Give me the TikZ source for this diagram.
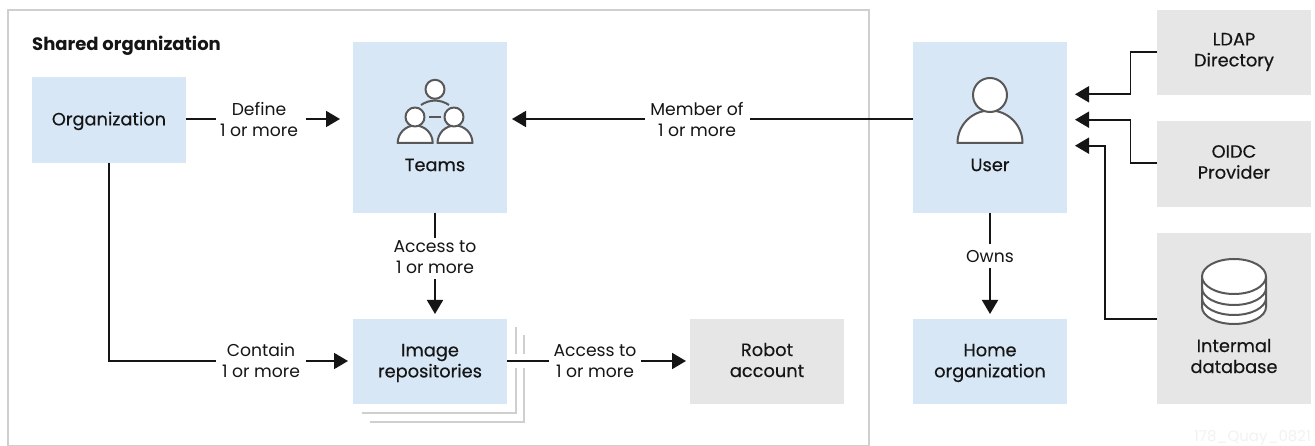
\documentclass[tikz,border=0pt]{standalone}
\usepackage{fontspec}
\setmainfont{Poppins}
\usetikzlibrary{arrows.meta}
\definecolor{bluebox}{HTML}{D8E7F6}
\definecolor{greybox}{HTML}{E6E6E6}
\definecolor{framec}{HTML}{CFCFCF}
\definecolor{inkc}{HTML}{151515}
\definecolor{iconc}{HTML}{585858}
\newfontfamily\medfont[FakeBold=0.4]{Poppins}
\tikzset{
  x=1pt,y=-1pt,
  boxb/.style={fill=bluebox,draw=none,inner sep=0pt},
  boxg/.style={fill=greybox,draw=none,inner sep=0pt},
  lbl/.style={font=\fontsize{17.2}{21}\selectfont,text=inkc,align=center,inner sep=0pt},
  lblm/.style={lbl,font=\fontsize{17.8}{21}\selectfont\medfont},
  line/.style={draw=inkc,line width=1.8pt},
  arr/.style={line,-{Triangle[length=14pt,width=16pt]}},
  ico/.style={draw=iconc,line width=2pt,fill=white,line join=round},
  stack/.style={draw=framec,line width=2pt},
}
\begin{document}
\begin{tikzpicture}
\useasboundingbox (0,0) rectangle (1315,446);
\fill[white] (0,0) rectangle (1315,446);
\draw[draw=framec,line width=2pt] (8,446) -- (8,10) -- (869,10) -- (869,446) -- cycle;
\node[lbl,anchor=west,font=\fontsize{18}{21}\selectfont\bfseries] (title) at (32,46) {Shared organization};

\draw[stack] (362,412.5) -- (515.5,412.5) -- (515.5,327);
\draw[stack] (370,421.5) -- (524,421.5) -- (524,335);

\path[boxb] (32,77) rectangle (186,163);
\node[lblm] (org) at (109,121) {Organization};
\coordinate (orgS) at (109,163); \coordinate (orgE) at (186,119);
\path[boxb] (353,42) rectangle (507,213);
\node[lblm] (teams) at (435,165) {Teams};
\coordinate (teamsW) at (340,119); \coordinate (teamsE) at (512,119); \coordinate (teamsS) at (435,213);
\path[boxb] (353,319) rectangle (507,404);
\node[lblm] (repo) at (430,363) {Image\\repositories};
\coordinate (repoN) at (435,314); \coordinate (repoW) at (348,361); \coordinate (repoE) at (507,361);
\path[boxg] (690,319) rectangle (844,404);
\node[lblm] (robot) at (767,360) {Robot\\account};
\coordinate (robotW) at (686,361);
\path[boxb] (913,42) rectangle (1067,213);
\node[lblm] (user) at (990,165) {User};
\coordinate (userW) at (913,119); \coordinate (userS) at (990,213);
\coordinate (userA) at (1075,94.3); \coordinate (userB) at (1075,119.7); \coordinate (userC) at (1075,145.7);
\path[boxb] (913,319) rectangle (1067,404);
\node[lblm] (home) at (990,363) {Home\\organization};
\coordinate (homeN) at (990,314);
\path[boxg] (1157,10) rectangle (1311,95);
\node[lblm] (ldap) at (1234,52) {LDAP\\Directory};
\coordinate (ldapW) at (1157,51.7);
\path[boxg] (1157,121) rectangle (1311,207);
\node[lblm] (oidc) at (1234,162) {OIDC\\Provider};
\coordinate (oidcW) at (1157,163.3);
\path[boxg] (1157,233) rectangle (1311,404);
\node[lblm] (db) at (1234,356) {Intermal\\database};
\coordinate (dbW) at (1157,319);

% icons: teams
\draw[ico,fill=none] (421,105) arc[start angle=235,end angle=305,radius=24.4];
\path[ico] (435,89.3) circle[radius=9.5];
\path[ico] (397.7,143) arc[start angle=180,end angle=360,radius=17.5] -- cycle;
\path[ico] (415,117) circle[radius=9.5];
\path[ico] (437.5,143) arc[start angle=180,end angle=360,radius=17.5] -- cycle;
\path[ico] (454,117) circle[radius=9.5];
\path[ico] (429,116.7) -- (441,116.7);
% icons: user
\path[ico] (957.5,143) arc[start angle=180,end angle=360,radius=32.5] -- cycle;
\path[ico] (990,95) circle[radius=17];
% icons: database
\path[ico] (1202,277) -- (1202,307) arc[start angle=180,end angle=0,x radius=32,y radius=17] -- (1266,277) -- cycle;
\draw[ico,fill=none] (1202,288) arc[start angle=180,end angle=0,x radius=32,y radius=17];
\draw[ico,fill=none] (1202,298) arc[start angle=180,end angle=0,x radius=32,y radius=17];
\path[ico] (1234,276.5) ellipse[x radius=32,y radius=17.5];

% labels
\node[lbl] (l1) at (259,120) {Define\\1 or more};
\node[lbl] (l2) at (697,120) {Member of\\1 or more};
\node[lbl] (l3) at (435,257) {Access to\\1 or more};
\node[lbl] (l4) at (261,361) {Contain\\1 or more};
\node[lbl] (l5) at (595,361.5) {Access to\\1 or more};
\node[lbl] (l6) at (990,257) {Owns};

% connectors
\draw[line] (orgE) -- (216,119);
\draw[arr] (306,119) -- (teamsW);
\draw[line] (userW) -- (750,119);
\draw[arr] (645,119) -- (teamsE);
\draw[line] (teamsS) -- (435,238);
\draw[arr] (435,279) -- (repoN);
\draw[line] (orgS) -- (109,361) -- (216,361);
\draw[arr] (306,361) -- (repoW);
\draw[arr] (641,361) -- (robotW);
\draw[line] (userS) -- (990,244);
\draw[arr] (990,268) -- (homeN);
\draw[arr] (ldapW) -- (1130.5,51.7) -- (1130.5,94.3) -- (userA);
\draw[arr] (oidcW) -- (1130.5,163.3) -- (1130.5,119.7) -- (userB);
\draw[arr] (dbW) -- (1105,319) -- (1105,145.7) -- (userC);
\fill[white] (512,354) rectangle (528,368);
\draw[line] (repoE) -- (549,361);
\node[anchor=east,inner sep=0pt,text=black!5,font=\fontsize{15}{18}\selectfont] (wm) at (1311,438) {178\_Quay\_0821};
\end{tikzpicture}
\end{document}
